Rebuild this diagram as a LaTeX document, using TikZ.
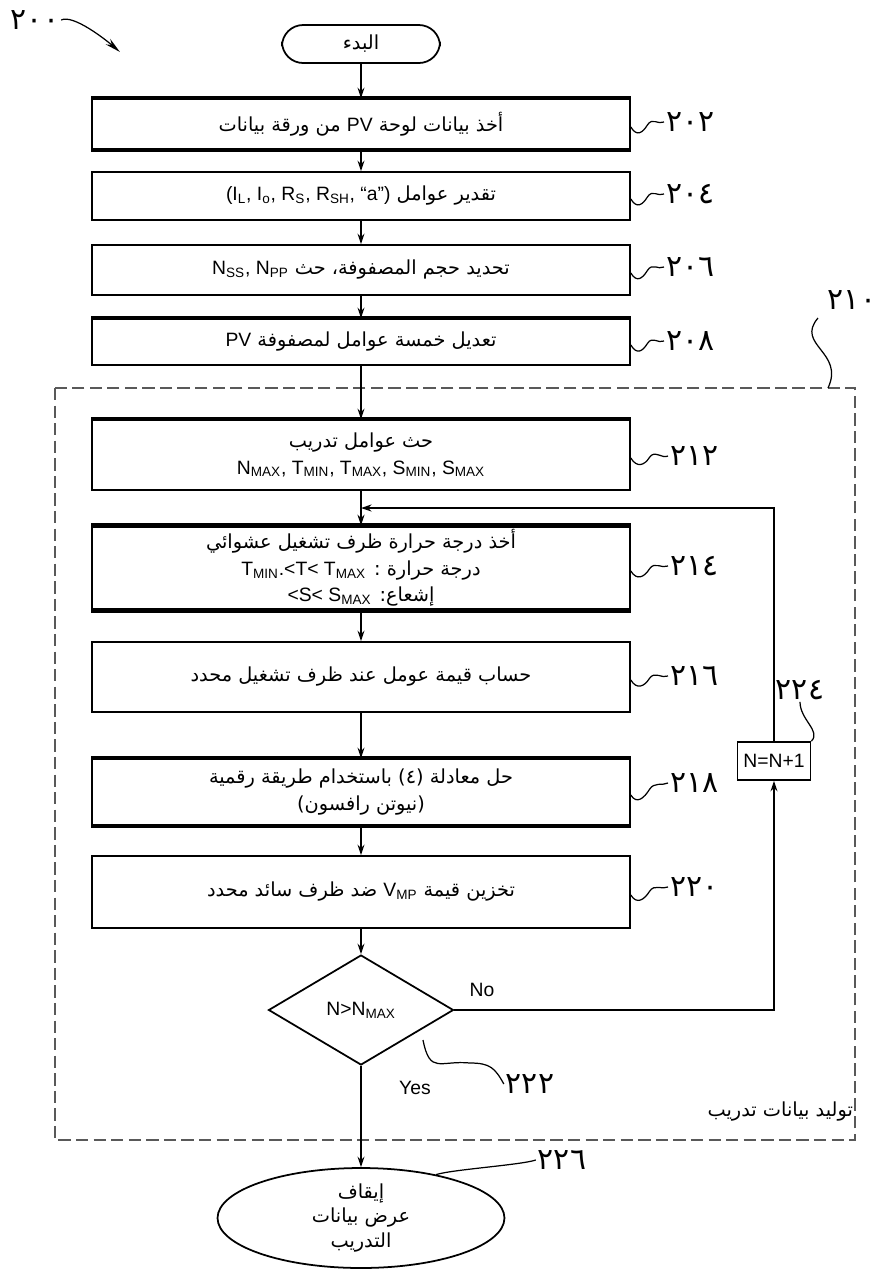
\documentclass[tikz,border=0pt]{standalone}
\usepackage{fontspec}
\setmainfont{Liberation Sans}
\newfontfamily\arabicfont[Script=Arabic]{DejaVu Sans}
\TeXXeTstate=1
\usetikzlibrary{shapes.geometric,arrows.meta,calc}
\newcommand{\artxt}[1]{{\arabicfont\beginR #1\endR}}
\newcommand{\lat}[1]{\beginL{\rmfamily #1}\endL{}}
\newcommand{\sbs}[1]{\textsubscript{#1}}
\tikzset{
  box/.style={draw, line width=1pt, minimum width=10.76cm, align=center,
    font=\fontsize{11}{15}\selectfont, inner sep=2pt},
  thickedge/.style={line width=2.6pt},
  lbl/.style={font=\arabicfont\fontsize{17}{18}\selectfont, inner sep=1pt},
  flow/.style={-{Stealth[length=6pt,width=4pt]}, line width=0.8pt},
  sq/.style={line width=0.7pt},
  plain/.style={line width=0.8pt}
}
\newcommand{\squig}[2]{\draw[sq] ($(#1.east)+(0,3)$) .. controls +(6,10) and +(-5,8) .. ($(#1.east)!0.5!(#2.west)+(0,2)$) .. controls +(5,-8) and +(-6,3) .. (#2.west);}
\begin{document}
\begin{tikzpicture}[x=0.02cm,y=-0.02cm]
\useasboundingbox (0,0) rectangle (894,1276);
% start
\node[draw, line width=1pt, rounded corners=12pt, minimum width=3.16cm, minimum height=0.76cm, font=\fontsize{11}{14}\selectfont] (start) at (361,44) {\artxt{البدء}};
% boxes
\node[box, minimum height=1.0cm] (b202) at (361,124) {\artxt{أخذ بيانات لوحة \lat{PV} من ورقة بيانات}};
\node[box, minimum height=0.96cm] (b204) at (361,196) {\artxt{تقدير عوامل \lat{(I\sbs{L}, I\sbs{o}, R\sbs{S}, R\sbs{SH}, “a”)}}};
\node[box, minimum height=1.0cm] (b206) at (361,270) {\artxt{تحديد حجم المصفوفة، حث \lat{N\sbs{SS}, N\sbs{PP}}}};
\node[box, minimum height=0.92cm] (b208) at (361,342) {\artxt{تعديل خمسة عوامل لمصفوفة \lat{PV}}};
\node[box, minimum height=1.4cm] (b212) at (361,455) {\artxt{حث عوامل تدريب}\\ \lat{N\sbs{MAX}, T\sbs{MIN}, T\sbs{MAX}, S\sbs{MIN}, S\sbs{MAX}}};
\node[box, minimum height=1.52cm] (b214) at (361,568) {\artxt{أخذ درجة حرارة ظرف تشغيل عشوائي}\\ \artxt{درجة حرارة : \lat{T\sbs{MIN}.<T< T\sbs{MAX}}}\\ \artxt{إشعاع: \lat{<S< S\sbs{MAX}}}};
\node[box, minimum height=1.4cm] (b216) at (361,677) {\artxt{حساب قيمة عومل عند ظرف تشغيل محدد}};
\node[box, minimum height=1.32cm] (b218) at (361,792) {\artxt{حل معادلة (٤) باستخدام طريقة رقمية}\\ \artxt{(نيوتن رافسون)}};
\node[box, minimum height=1.44cm] (b220) at (361,892) {\artxt{تخزين قيمة \lat{V\sbs{MP}} ضد ظرف سائد محدد}};
% thick edges
\foreach \b in {b202,b208,b212,b214,b218}{
  \draw[thickedge] (\b.north west) -- (\b.north east);
}
\foreach \b in {b202,b214,b218}{
  \draw[thickedge] (\b.south west) -- (\b.south east);
}
% decision
\node[draw, diamond, line width=1pt, minimum width=3.7cm, minimum height=2.2cm, inner sep=0pt, font=\fontsize{11}{14}\selectfont] (dec) at (361,1010) {N>N\sbs{MAX}};
\node[draw, line width=1pt, minimum width=1.44cm, minimum height=0.76cm, font=\fontsize{11}{14}\selectfont] (ninc) at (774,761) {N=N+1};
\node[draw, ellipse, line width=1pt, minimum width=5.74cm, minimum height=2.0cm, align=center, inner sep=0pt, font=\fontsize{11}{14}\selectfont] (stop) at (361,1218) {\artxt{إيقاف}\\ \artxt{عرض بيانات}\\ \artxt{التدريب}};
% dashed region
\draw[dash pattern=on 7pt off 3pt, line width=0.9pt, draw=black!65] (55,388) rectangle (855,1140);
\node[anchor=east, inner sep=1pt, font=\fontsize{11}{14}\selectfont] (region) at (855,1112) {\artxt{توليد بيانات تدريب}};
% flow
\coordinate (loopin) at (361,508);
\draw[flow] (start) -- (b202);
\draw[flow] (b202) -- (b204);
\draw[flow] (b204) -- (b206);
\draw[flow] (b206) -- (b208);
\draw[flow] (b208) -- (b212);
\draw[flow] (b212) -- (b214);
\draw[flow] (b214) -- (b216);
\draw[flow] (b216) -- (b218);
\draw[flow] (b218) -- (b220);
\draw[flow] (b220) -- (dec);
\draw[flow] (dec) -- (stop);
\draw[flow] (dec.east) -| (ninc.south);
\draw[flow] (ninc.north) |- (loopin);
\node[font=\fontsize{11}{14}\selectfont] (no) at (482,990) {No};
\node[font=\fontsize{11}{14}\selectfont] (yes) at (415,1088) {Yes};
% labels
\node[lbl, anchor=west] (l202) at (664,122) {٢٠٢};
\node[lbl, anchor=west] (l204) at (664,194) {٢٠٤};
\node[lbl, anchor=west] (l206) at (664,267) {٢٠٦};
\node[lbl, anchor=west] (l208) at (664,341) {٢٠٨};
\node[lbl, anchor=west] (l212) at (668,456) {٢١٢};
\node[lbl, anchor=west] (l214) at (668,566) {٢١٤};
\node[lbl, anchor=west] (l216) at (668,676) {٢١٦};
\node[lbl, anchor=west] (l218) at (668,783) {٢١٨};
\node[lbl, anchor=west] (l220) at (668,887) {٢٢٠};
\squig{b202}{l202}
\squig{b204}{l204}
\squig{b206}{l206}
\squig{b208}{l208}
\squig{b212}{l212}
\squig{b214}{l214}
\squig{b216}{l216}
\squig{b218}{l218}
\squig{b220}{l220}
\node[lbl] (l210) at (852,300) {٢١٠};
\draw[sq] (818,318) .. controls (795,345) and (845,352) .. (828,388);
\node[lbl] (l224) at (800,690) {٢٢٤};
\draw[sq] (l224.south) .. controls +(0,18) and +(10,-10) .. (ninc.north east);
\node[lbl] (l222) at (530,1084) {٢٢٢};
\draw[sq] (423,1040) .. controls (430,1075) and (440,1060) .. (470,1063) .. controls (490,1063) and (495,1068) .. (l222.west);
\node[lbl] (l226) at (562,1160) {٢٢٦};
\draw[sq] (stop.30) .. controls +(15,-5) and +(-15,5) .. (l226.west);
\node[lbl] (l200) at (35,20) {٢٠٠};
\coordinate (t200) at (120,52);
\draw[sq, -{Stealth[length=9pt,width=4pt]}] (l200.east) .. controls +(12,-6) and +(-14,-12) .. (t200);
\end{tikzpicture}
\end{document}
